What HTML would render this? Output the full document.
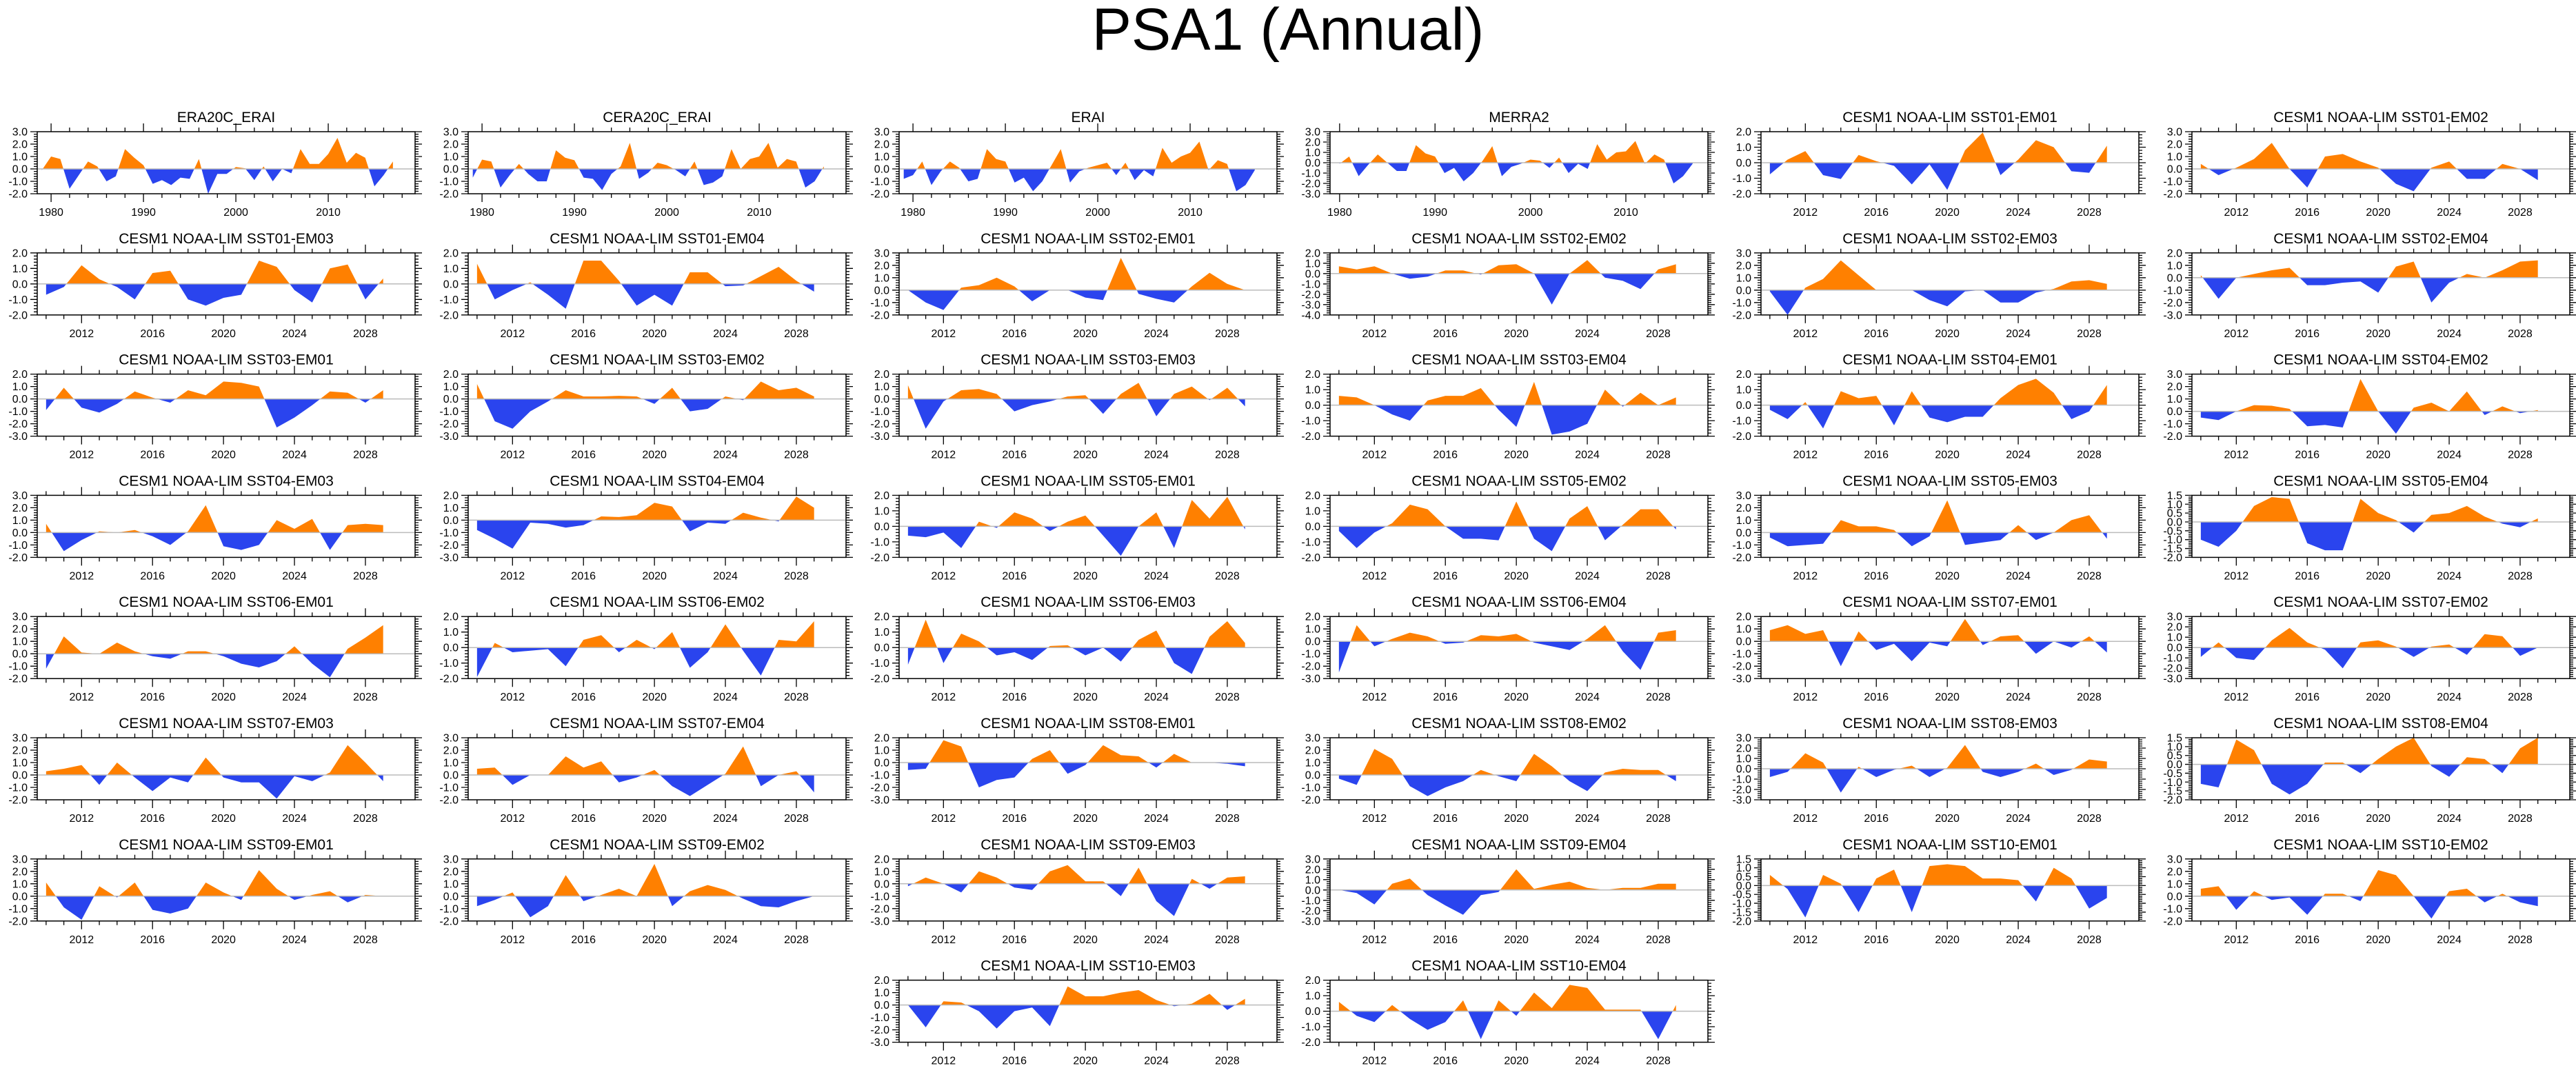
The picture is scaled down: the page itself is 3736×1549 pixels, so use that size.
<!DOCTYPE html>
<html><head><meta charset="utf-8"><style>
html,body{margin:0;padding:0;background:#fff;}
svg{display:block;font-family:"Liberation Sans",Arial,sans-serif;}
</style></head><body>
<svg id="fig" width="3736" height="1549" viewBox="0 0 3736 1549" xmlns="http://www.w3.org/2000/svg">
<rect x="0" y="0" width="3736" height="1549" fill="#fff"/>
<text x="1868" y="72" font-size="86" text-anchor="middle">PSA1 (Annual)</text>
</svg>
<script>
const titles = ["ERA20C_ERAI","CERA20C_ERAI","ERAI","MERRA2","CESM1 NOAA-LIM SST01-EM01","CESM1 NOAA-LIM SST01-EM02",
"CESM1 NOAA-LIM SST01-EM03","CESM1 NOAA-LIM SST01-EM04","CESM1 NOAA-LIM SST02-EM01","CESM1 NOAA-LIM SST02-EM02","CESM1 NOAA-LIM SST02-EM03","CESM1 NOAA-LIM SST02-EM04",
"CESM1 NOAA-LIM SST03-EM01","CESM1 NOAA-LIM SST03-EM02","CESM1 NOAA-LIM SST03-EM03","CESM1 NOAA-LIM SST03-EM04","CESM1 NOAA-LIM SST04-EM01","CESM1 NOAA-LIM SST04-EM02",
"CESM1 NOAA-LIM SST04-EM03","CESM1 NOAA-LIM SST04-EM04","CESM1 NOAA-LIM SST05-EM01","CESM1 NOAA-LIM SST05-EM02","CESM1 NOAA-LIM SST05-EM03","CESM1 NOAA-LIM SST05-EM04",
"CESM1 NOAA-LIM SST06-EM01","CESM1 NOAA-LIM SST06-EM02","CESM1 NOAA-LIM SST06-EM03","CESM1 NOAA-LIM SST06-EM04","CESM1 NOAA-LIM SST07-EM01","CESM1 NOAA-LIM SST07-EM02",
"CESM1 NOAA-LIM SST07-EM03","CESM1 NOAA-LIM SST07-EM04","CESM1 NOAA-LIM SST08-EM01","CESM1 NOAA-LIM SST08-EM02","CESM1 NOAA-LIM SST08-EM03","CESM1 NOAA-LIM SST08-EM04",
"CESM1 NOAA-LIM SST09-EM01","CESM1 NOAA-LIM SST09-EM02","CESM1 NOAA-LIM SST09-EM03","CESM1 NOAA-LIM SST09-EM04","CESM1 NOAA-LIM SST10-EM01","CESM1 NOAA-LIM SST10-EM02",
"CESM1 NOAA-LIM SST10-EM03","CESM1 NOAA-LIM SST10-EM04"];
const yMins = [-2,-2,-2,-3,-2,-2, -2,-2,-2,-4,-2,-3, -3,-3,-3,-2,-2,-2, -2,-3,-2,-2,-2,-2, -2,-2,-2,-3,-3,-3, -2,-2,-3,-2,-3,-2, -2,-2,-3,-3,-2,-2, -3,-2];
const yMaxs = [3,3,3,3,2,3, 2,2,3,2,3,2, 2,2,2,2,2,3, 3,2,2,2,3,1.5, 3,2,2,2,2,3, 3,3,2,3,3,1.5, 3,3,2,3,1.5,3, 2,2];
const startYears = [1979,1979,1979,1980];
const v00 = [-0.1,1.0,0.8,-1.6,-0.5,0.6,0.2,-1.0,-0.6,1.6,0.9,0.3,-1.2,-0.9,-1.3,-0.7,-0.8,0.8,-2.0,-0.4,-0.4,0.15,0.05,-0.9,0.2,-1.0,0.0,-0.35,1.6,0.4,0.4,1.2,2.5,0.5,1.3,0.9,-1.4,-0.5,0.6];
const v01 = [-0.7,0.75,0.6,-1.5,-0.5,0.4,-0.4,-1.0,-1.0,1.5,0.9,0.7,-0.7,-0.8,-1.7,-0.4,0.2,2.1,-0.8,-0.3,0.5,0.3,-0.1,-0.6,0.6,-1.3,-1.1,-0.6,1.6,0.0,0.8,1.0,2.1,0.1,0.8,0.6,-1.5,-1.0,0.2];
const v02 = [-0.8,-0.5,0.6,-1.3,-0.2,0.6,0.1,-1.0,-0.8,1.6,0.8,0.6,-1.1,-0.7,-1.8,-1.0,0.3,1.6,-1.1,-0.2,0.1,0.3,0.5,-0.5,0.5,-0.9,-0.1,-0.6,1.7,0.5,1.0,1.3,2.2,-0.1,0.7,0.4,-1.8,-1.3,-0.1];
const v03 = [-0.1,0.6,-1.3,-0.2,0.8,0.0,-0.8,-0.8,1.7,0.9,0.6,-1.0,-0.5,-1.8,-1.0,0.2,1.6,-1.3,-0.4,-0.1,0.3,0.2,-0.5,0.5,-1.0,-0.1,-0.6,1.8,0.3,1.0,1.1,2.1,-0.1,0.8,0.3,-2.0,-1.3,-0.1];
const v04 = [-0.75,0.2,0.75,-0.8,-1.05,0.5,0.1,-0.2,-1.4,-0.1,-1.75,0.8,1.95,-0.8,0.2,1.45,1.0,-0.55,-0.65,1.1];
const v05 = [0.4,-0.5,0.1,0.8,2.1,0.0,-1.5,1.0,1.2,0.6,0.1,-1.2,-1.8,0.1,0.6,-0.8,-0.8,0.4,0.0,-0.9];
const v06 = [-0.7,-0.2,1.2,0.3,-0.2,-1.0,0.7,0.85,-1.0,-1.4,-0.9,-0.7,1.5,1.1,-0.4,-1.2,1.0,1.25,-1.0,0.35];
const v07 = [1.3,-1.0,-0.4,0.1,-0.7,-1.6,1.5,1.5,0.2,-1.4,-0.7,-1.4,0.75,0.75,-0.15,-0.1,0.5,1.1,0.2,-0.5];
const v08 = [0.0,-1.0,-1.6,0.2,0.4,1.0,0.3,-0.9,0.0,0.0,-0.6,-0.8,2.6,-0.3,-0.7,-1.0,0.3,1.4,0.5,0.0];
const v09 = [0.7,0.4,0.7,0.0,-0.5,-0.3,0.3,0.3,-0.1,0.8,0.9,0.0,-3.0,0.0,1.3,-0.4,-0.7,-1.5,0.4,0.9];
const v10 = [-0.1,-2.0,0.2,0.9,2.4,1.2,0.0,0.0,0.0,-0.8,-1.3,-0.1,0.0,-1.0,-1.0,-0.2,0.1,0.7,0.8,0.5];
const v11 = [0.2,-1.7,0.0,0.3,0.6,0.8,-0.6,-0.6,-0.4,-0.3,-1.2,0.9,1.3,-2.0,-0.4,0.3,0.0,0.6,1.3,1.4];
const v12 = [-0.9,0.9,-0.7,-1.1,-0.4,0.6,0.1,-0.3,0.7,0.3,1.4,1.3,1.0,-2.3,-1.5,-0.5,0.6,0.5,-0.3,0.7];
const v13 = [1.2,-1.8,-2.4,-1.0,-0.2,0.7,0.2,0.2,0.25,0.2,-0.4,0.9,-1.0,-0.8,0.2,-0.1,1.4,0.7,0.9,0.2];
const v14 = [1.1,-2.4,-0.2,0.7,0.8,0.4,-1.0,-0.5,-0.2,0.2,0.3,-1.2,0.4,1.3,-1.4,0.4,1.0,-0.1,0.9,-0.6];
const v15 = [0.6,0.5,0.0,-0.6,-1.0,0.3,0.6,0.6,1.1,-0.3,-1.4,1.5,-1.9,-1.7,-1.2,1.0,-0.1,0.8,0.0,0.5];
const v16 = [-0.3,-0.9,0.2,-1.5,0.9,0.45,0.6,-1.3,0.9,-0.8,-1.1,-0.75,-0.75,0.45,1.3,1.7,0.8,-0.9,-0.4,1.3];
const v17 = [-0.5,-0.7,0.0,0.5,0.45,0.2,-1.2,-1.1,-1.3,2.6,0.0,-1.8,0.3,0.7,0.0,1.6,-0.3,0.4,-0.15,0.1];
const v18 = [0.7,-1.5,-0.6,0.1,0.0,0.2,-0.3,-1.0,0.1,2.2,-1.1,-1.4,-1.0,1.0,0.3,1.1,-1.4,0.6,0.7,0.6];
const v19 = [-0.8,-1.5,-2.3,-0.2,-0.3,-0.6,-0.4,0.3,0.25,0.4,1.4,1.1,-0.9,-0.2,-0.3,0.6,0.2,-0.1,1.9,1.0];
const v20 = [-0.6,-0.7,-0.4,-1.4,0.3,-0.1,0.9,0.5,-0.3,0.3,0.7,-0.6,-1.9,0.0,0.9,-1.4,1.7,0.5,1.9,-0.2];
const v21 = [-0.3,-1.4,-0.4,0.2,1.4,1.1,0.0,-0.8,-0.8,-0.9,1.6,-0.8,-1.6,0.5,1.3,-0.9,0.1,1.1,1.1,-0.2];
const v22 = [-0.4,-1.1,-1.0,-0.9,1.0,0.5,0.5,0.2,-1.1,-0.3,2.6,-1.0,-0.8,-0.6,0.6,-0.6,0.0,1.0,1.4,-0.5];
const v23 = [-1.0,-1.4,-0.5,0.9,1.4,1.3,-1.2,-1.6,-1.6,1.3,0.5,0.1,-0.6,0.4,0.5,0.9,0.3,-0.1,-0.3,0.2];
const v24 = [-1.2,1.4,0.1,0.0,0.9,0.2,-0.2,-0.4,0.2,0.2,-0.2,-0.8,-1.1,-0.6,0.6,-0.8,-1.9,0.4,1.3,2.3];
const v25 = [-1.9,0.3,-0.3,-0.2,-0.1,-1.2,0.5,0.8,-0.3,0.5,-0.1,1.0,-1.3,-0.3,1.5,-0.2,-1.8,0.5,0.4,1.7];
const v26 = [-1.1,1.8,-1.0,0.9,0.4,-0.5,-0.3,-0.8,0.1,0.15,-0.5,0.0,-0.9,0.5,1.1,-1.0,-1.7,0.7,1.7,0.3];
const v27 = [-2.5,1.3,-0.4,0.2,0.7,0.4,-0.2,-0.1,0.5,0.4,0.6,-0.1,-0.4,-0.7,0.2,1.3,-0.8,-2.3,0.7,0.9];
const v28 = [0.9,1.3,0.6,0.9,-2.0,0.8,-0.7,-0.2,-1.6,-0.1,-0.4,1.8,-0.3,0.4,0.5,-1.0,0.0,-0.5,0.4,-0.9];
const v29 = [-0.9,0.5,-1.0,-1.2,0.7,1.9,0.5,-0.2,-2.0,0.5,0.7,0.1,-0.9,0.1,0.3,-0.7,1.3,1.1,-0.8,0.0];
const v30 = [0.3,0.5,0.8,-0.8,1.0,-0.2,-1.3,-0.2,-0.6,1.4,-0.2,-0.6,-0.6,-1.9,-0.1,-0.5,0.2,2.4,1.0,-0.5];
const v31 = [0.5,0.6,-0.8,0.0,0.0,1.5,0.6,1.1,-0.6,-0.2,0.4,-0.9,-1.7,-0.8,0.1,2.3,-0.9,0.0,0.3,-1.4];
const v32 = [-0.6,-0.5,1.8,1.3,-2.0,-1.4,-1.2,0.3,1.0,-0.9,-0.2,1.4,0.6,0.5,-0.4,0.7,0.0,0.0,-0.1,-0.3];
const v33 = [-0.3,-0.8,2.1,1.3,-0.9,-1.7,-1.0,-0.5,0.4,-0.1,-0.5,1.7,0.7,-0.5,-1.3,0.2,0.5,0.4,0.4,-0.5];
const v34 = [-0.8,-0.3,1.5,0.6,-2.3,0.2,-0.8,-0.1,0.3,-0.8,0.1,2.3,-0.3,-0.8,-0.3,0.5,-0.6,-0.1,0.9,0.7];
const v35 = [-1.1,-1.3,1.4,0.8,-1.1,-1.7,-1.1,0.1,0.1,-0.5,0.3,1.0,1.5,-0.1,-0.7,0.4,0.3,-0.5,0.9,1.5];
const v36 = [1.1,-0.9,-1.9,0.8,-0.1,1.1,-1.1,-1.4,-1.0,1.1,0.3,-0.3,2.1,0.6,-0.3,0.1,0.4,-0.5,0.1,0.0];
const v37 = [-0.8,-0.3,0.3,-1.7,-0.8,1.7,-0.4,0.1,0.6,0.0,2.6,-0.8,0.4,0.9,0.5,-0.2,-0.8,-0.9,-0.4,0.0];
const v38 = [-0.2,0.5,0.0,-0.7,1.0,0.5,-0.3,-0.5,1.0,1.5,0.2,0.2,-1.0,1.3,-1.4,-2.6,0.4,-0.4,0.5,0.6];
const v39 = [0.0,-0.3,-1.4,0.6,1.1,-0.5,-1.5,-2.4,-0.5,-0.2,2.0,0.1,0.5,0.8,0.2,0.0,0.2,0.2,0.6,0.6];
const v40 = [0.6,-0.2,-1.8,0.6,0.1,-1.5,0.4,0.9,-1.5,1.1,1.2,1.1,0.4,0.4,0.3,-0.9,1.0,0.4,-1.3,-0.7];
const v41 = [0.6,0.8,-1.1,0.4,-0.3,-0.1,-1.5,0.2,0.2,-0.4,2.1,1.7,0.0,-1.8,0.4,0.6,-0.5,0.2,-0.5,-0.8];
const v42 = [0.0,-1.8,0.3,0.2,-0.5,-1.9,-0.5,-0.2,-1.7,1.5,0.7,0.7,1.0,1.2,0.4,-0.1,0.1,0.9,-0.4,0.5];
const v43 = [0.6,-0.3,-0.7,0.4,-0.5,-1.2,-0.7,0.7,-1.8,0.7,-0.3,1.2,0.2,1.7,1.5,0.1,0.1,0.1,-1.8,0.4];
const histTickLabels = ["1980","1990","2000","2010"];
const futTickLabels = ["2012","2016","2020","2024","2028"];

const allValues = [v00,v01,v02,v03,v04,v05,v06,v07,v08,v09,v10,v11,v12,v13,v14,v15,v16,v17,v18,v19,v20,v21,v22,v23,v24,v25,v26,v27,v28,v29,v30,v31,v32,v33,v34,v35,v36,v37,v38,v39,v40,v41,v42,v43];

const NS = "http://www.w3.org/2000/svg";
const svg = document.getElementById("fig");
function mk(tag, attrs, parent){ const e=document.createElementNS(NS,tag); for(const k in attrs) e.setAttribute(k,attrs[k]); (parent||svg).appendChild(e); return e; }

const PW=548, PH=90;
function panelPos(i){
  let r=Math.floor(i/6), c=i%6;
  if(i>=42){ r=7; c=i-42+2; }
  return {x:54+625*c, y:191+175.8*r};
}

allValues.forEach((vals,i)=>{
  const p=panelPos(i);
  const hist = i<4;
  const x0 = hist ? (i===3?1979.0:1978.5) : 2009.5;
  const x1 = hist ? (i===3?2018.6:2019.4) : 2030.8;
  const y0=yMins[i], y1=yMaxs[i];
  const sx=v=>p.x+(v-x0)/(x1-x0)*PW;
  const sy=v=>p.y+(y1-v)/(y1-y0)*PH;
  const start = hist ? startYears[i] : 2010;
  const g=mk("g",{});
  
  

  const t=mk("text",{x:p.x+PW/2,y:p.y-14,"font-size":"21","text-anchor":"middle"},g);
  t.textContent=titles[i];
  
  

  const zy=sy(0);
  const cpA=mk("clipPath",{id:"ca"+i},g); mk("rect",{x:p.x,y:p.y,width:PW,height:zy-p.y},cpA);
  const cpB=mk("clipPath",{id:"cb"+i},g); mk("rect",{x:p.x,y:zy,width:PW,height:p.y+PH-zy},cpB);
  let d="M"+sx(start)+","+zy;
  vals.forEach((v,k)=>{ d+=" L"+sx(start+k).toFixed(2)+","+sy(v).toFixed(2); });
  d+=" L"+sx(start+vals.length-1)+","+zy+" Z";
  const pa=mk("path",{d:d,fill:"#ff8000","clip-path":"url(#ca"+i+")"},g);
  
  
  const pb=mk("path",{d:d,fill:"#2a44ee","clip-path":"url(#cb"+i+")"},g);
  
  
  const zl=mk("line",{x1:p.x,x2:p.x+PW,y1:zy,y2:zy,stroke:"#bbbbbb","stroke-width":"1.5"},g);
  
  

  const fr=mk("rect",{x:p.x,y:p.y,width:PW,height:PH,fill:"none",stroke:"#000","stroke-width":"1.5"},g);
  
  

  let tk="";
  const minorStep = hist?2:1, majorStep = hist?10:4, majorBase = hist?1980:2012;
  for(let yr=Math.ceil(x0); yr<=x1; yr++){
    if((yr-majorBase)%minorStep!==0) continue;
    const major=((yr-majorBase)%majorStep===0);
    const L=major?12:6, X=sx(yr);
    tk+="M"+X+","+p.y+" v"+(-L)+" M"+X+","+(p.y+PH)+" v"+L+" ";
  }
  const ystep = (y1%1!==0)?0.5:1.0;
  const ymin = ystep/5;
  for(let v=y0; v<=y1+1e-6; v+=ymin){
    const isMaj=Math.abs(Math.round(v/ystep)*ystep-v)<1e-6;
    const L=isMaj?10:5, Y=sy(v);
    tk+="M"+p.x+","+Y+" h"+(-L)+" M"+(p.x+PW)+","+Y+" h"+L+" ";
  }
  const tp=mk("path",{d:tk,stroke:"#000","stroke-width":"1.3",fill:"none"},g);
  
  

  for(let v=y0; v<=y1+1e-6; v+=ystep){
    const yl=mk("text",{x:p.x-14,y:sy(v)+5.5,"font-size":"16","text-anchor":"end"},g);
    yl.textContent=(Math.abs(v)<1e-9?0:v).toFixed(1);
    
    
  }
  const labs = hist?histTickLabels:futTickLabels;
  labs.forEach(s=>{
    const xl=mk("text",{x:sx(+s),y:p.y+PH+32,"font-size":"16","text-anchor":"middle"},g);
    xl.textContent=s;
    
    
  });
});
</script>
</body></html>
